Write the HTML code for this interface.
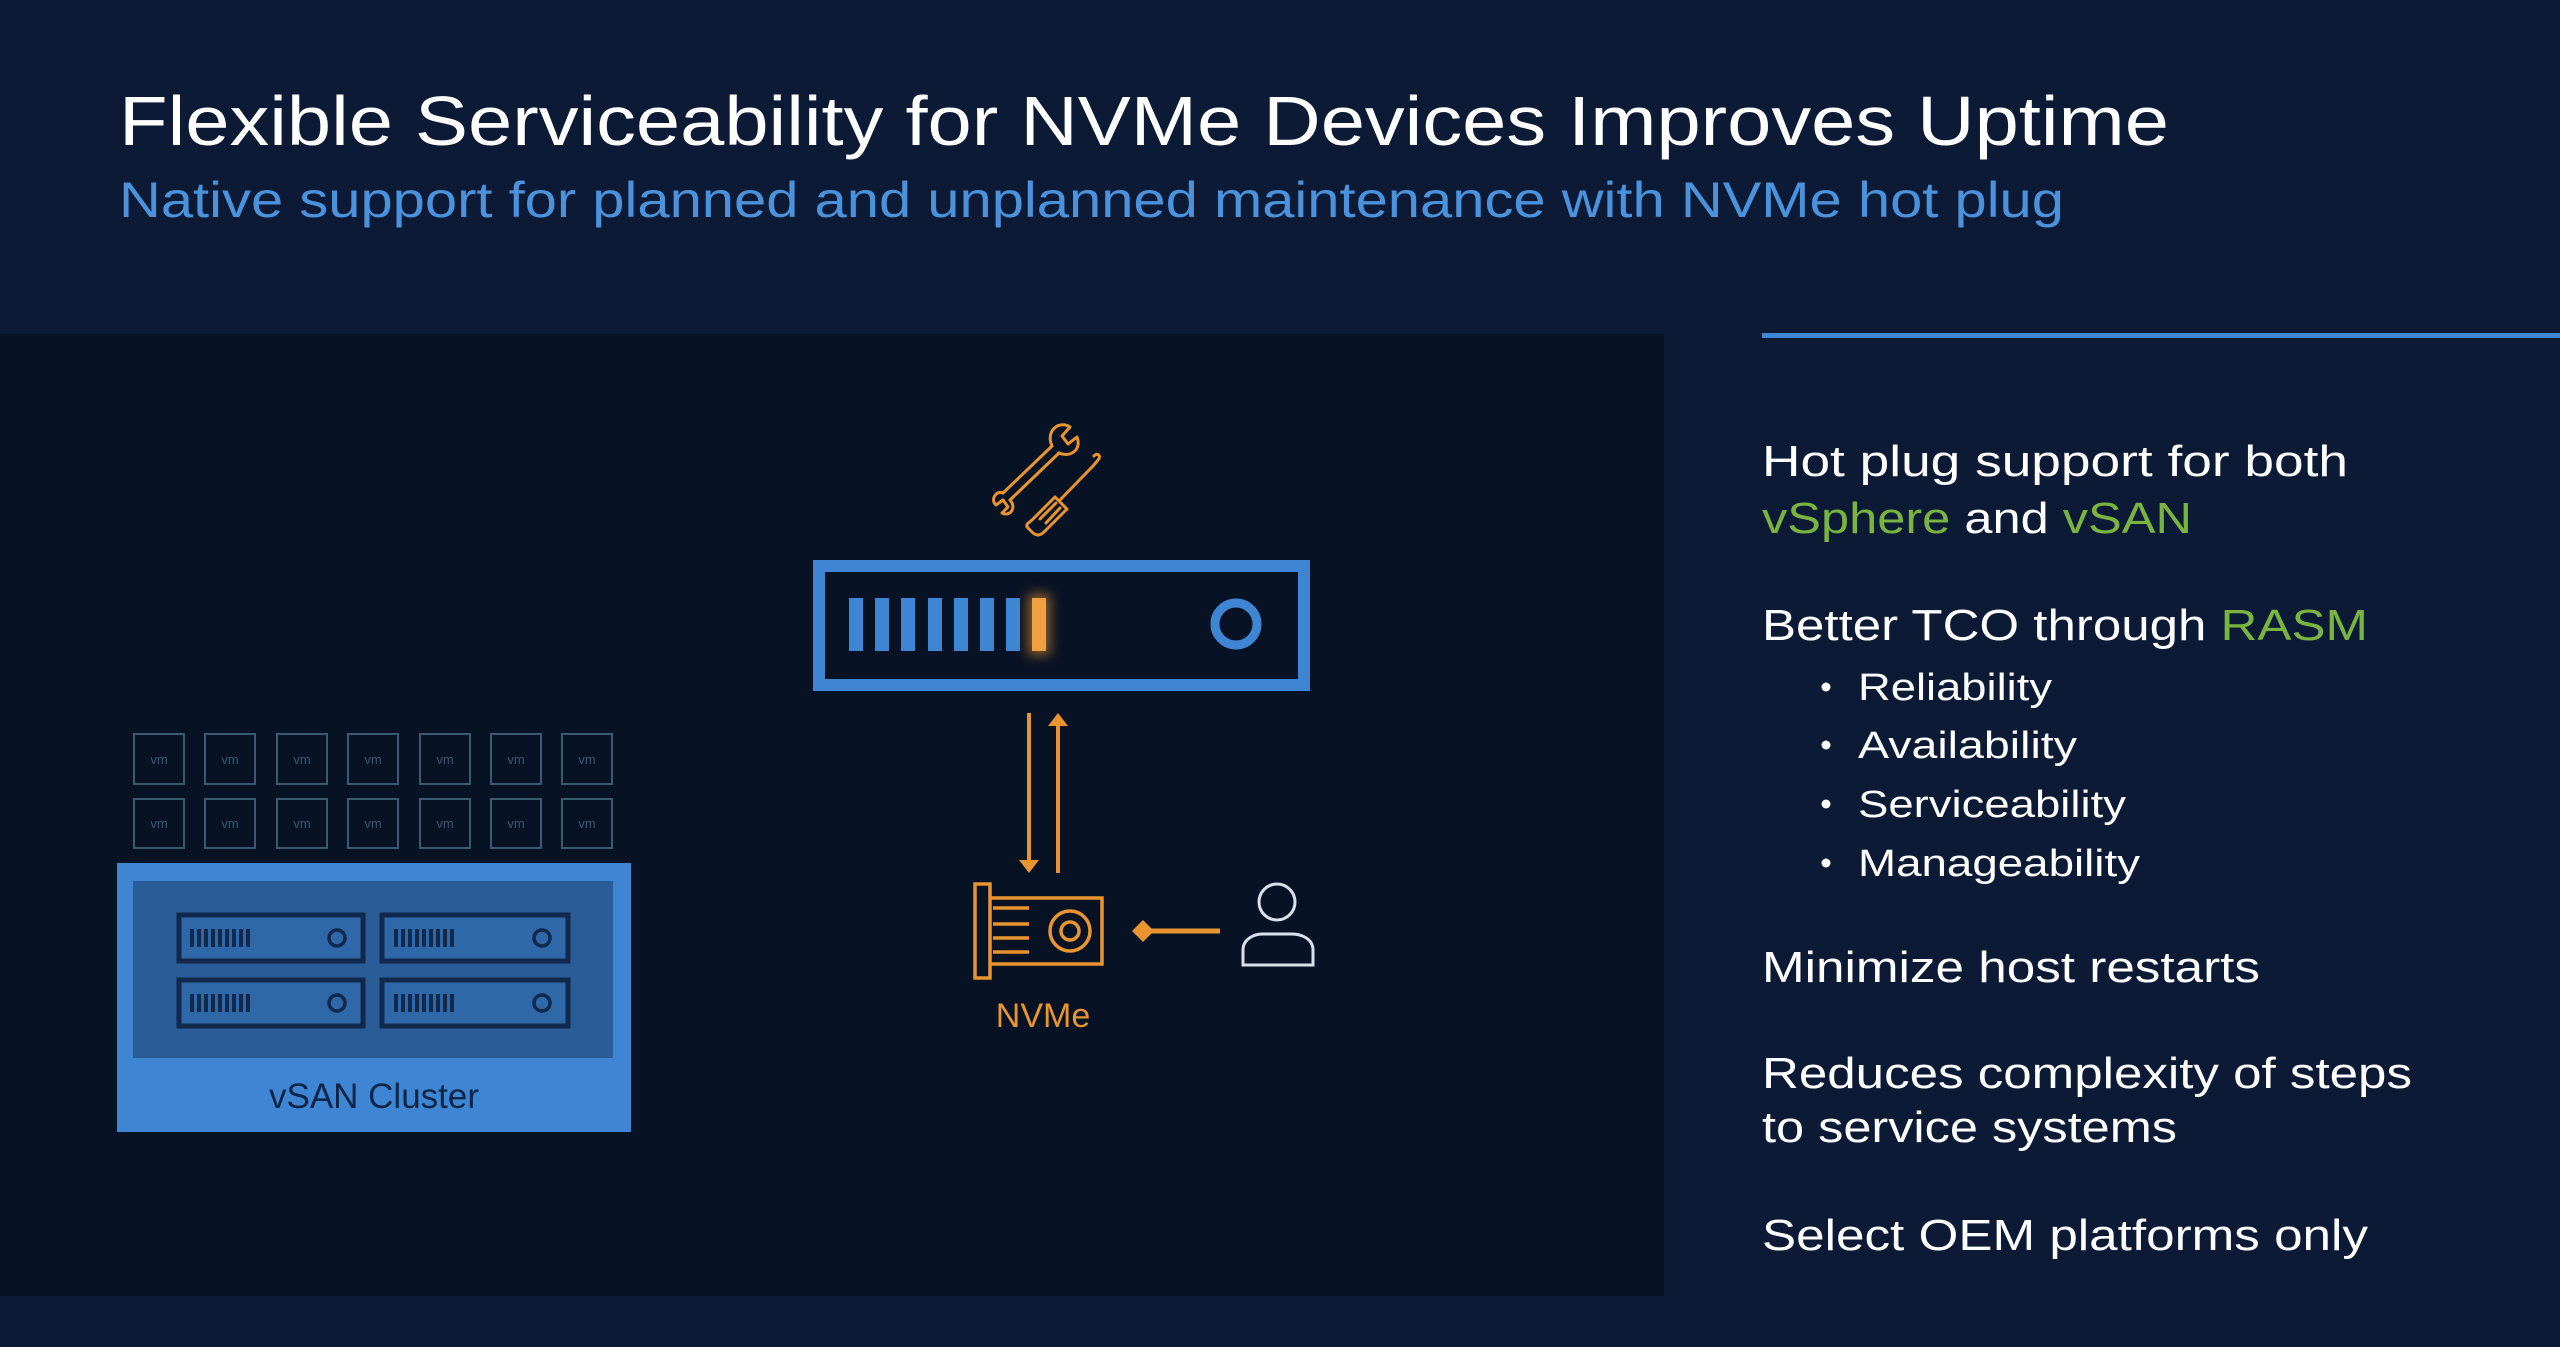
<!DOCTYPE html>
<html><head><meta charset="utf-8"><style>
html,body{margin:0;padding:0;background:#0c1a35;}
svg{display:block}
</style></head><body>
<svg width="2560" height="1347" viewBox="0 0 2560 1347" xmlns="http://www.w3.org/2000/svg" font-family="Liberation Sans, sans-serif">
<defs>
<filter id="glow" x="-100%" y="-50%" width="300%" height="200%"><feGaussianBlur stdDeviation="6"/></filter>
</defs>
<rect width="2560" height="1347" fill="#0c1a36"/>
<rect x="0" y="334" width="1664" height="962" fill="#081225"/>
<rect x="1762" y="333" width="798" height="5" fill="#3f86d6"/>

<text x="119" y="145" font-size="70" fill="#ffffff" textLength="2050" lengthAdjust="spacingAndGlyphs">Flexible Serviceability for NVMe Devices Improves Uptime</text>
<text x="119" y="217" font-size="50" fill="#4a93dc" textLength="1945" lengthAdjust="spacingAndGlyphs">Native support for planned and unplanned maintenance with NVMe hot plug</text>

<g font-size="44" fill="#ffffff">
<text x="1762" y="476" textLength="586" lengthAdjust="spacingAndGlyphs">Hot plug support for both</text>
<text x="1762" y="533" textLength="430" lengthAdjust="spacingAndGlyphs"><tspan fill="#7ab440">vSphere</tspan> and <tspan fill="#7ab440">vSAN</tspan></text>
<text x="1762" y="640" textLength="606" lengthAdjust="spacingAndGlyphs">Better TCO through <tspan fill="#7ab440">RASM</tspan></text>
<text x="1762" y="982" textLength="498" lengthAdjust="spacingAndGlyphs">Minimize host restarts</text>
<text x="1762" y="1088" textLength="650" lengthAdjust="spacingAndGlyphs">Reduces complexity of steps</text>
<text x="1762" y="1142" textLength="415" lengthAdjust="spacingAndGlyphs">to service systems</text>
<text x="1762" y="1250" textLength="606" lengthAdjust="spacingAndGlyphs">Select OEM platforms only</text>
</g>
<g font-size="38" fill="#ffffff">
<circle cx="1826" cy="687" r="4.5"/><text x="1858" y="700" textLength="194" lengthAdjust="spacingAndGlyphs">Reliability</text>
<circle cx="1826" cy="745" r="4.5"/><text x="1858" y="758" textLength="219" lengthAdjust="spacingAndGlyphs">Availability</text>
<circle cx="1826" cy="804" r="4.5"/><text x="1858" y="817" textLength="268" lengthAdjust="spacingAndGlyphs">Serviceability</text>
<circle cx="1826" cy="863" r="4.5"/><text x="1858" y="876" textLength="282" lengthAdjust="spacingAndGlyphs">Manageability</text>
</g>

<!-- VM grid -->
<g stroke="#3a5a6e" stroke-width="2" fill="none">
<rect x="134" y="734" width="50" height="50"/><rect x="205" y="734" width="50" height="50"/><rect x="277" y="734" width="50" height="50"/><rect x="348" y="734" width="50" height="50"/><rect x="420" y="734" width="50" height="50"/><rect x="491" y="734" width="50" height="50"/><rect x="562" y="734" width="50" height="50"/>
<rect x="134" y="799" width="50" height="49"/><rect x="205" y="799" width="50" height="49"/><rect x="277" y="799" width="50" height="49"/><rect x="348" y="799" width="50" height="49"/><rect x="420" y="799" width="50" height="49"/><rect x="491" y="799" width="50" height="49"/><rect x="562" y="799" width="50" height="49"/>
</g>
<g font-size="13" fill="#3a5a6e" text-anchor="middle">
<text x="159" y="764">vm</text><text x="230" y="764">vm</text><text x="302" y="764">vm</text><text x="373" y="764">vm</text><text x="445" y="764">vm</text><text x="516" y="764">vm</text><text x="587" y="764">vm</text>
<text x="159" y="828">vm</text><text x="230" y="828">vm</text><text x="302" y="828">vm</text><text x="373" y="828">vm</text><text x="445" y="828">vm</text><text x="516" y="828">vm</text><text x="587" y="828">vm</text>
</g>

<!-- vSAN cluster -->
<rect x="117" y="863" width="514" height="269" fill="#3e86d3"/>
<rect x="133" y="881" width="480" height="177" fill="#2a5c98"/>
<g stroke="#10294d" stroke-width="5" fill="#2f68a8">
<rect x="179" y="915" width="184" height="46"/><rect x="382" y="915" width="186" height="46"/>
<rect x="179" y="980" width="184" height="46"/><rect x="382" y="980" width="186" height="46"/>
</g>
<g fill="#10294d">
<g id="bars"><rect x="190" y="929" width="4" height="18"/><rect x="197" y="929" width="4" height="18"/><rect x="204" y="929" width="4" height="18"/><rect x="211" y="929" width="4" height="18"/><rect x="218" y="929" width="4" height="18"/><rect x="225" y="929" width="4" height="18"/><rect x="232" y="929" width="4" height="18"/><rect x="239" y="929" width="4" height="18"/><rect x="246" y="929" width="4" height="18"/></g>
<use href="#bars" x="204"/><use href="#bars" y="65"/><use href="#bars" x="204" y="65"/>
</g>
<g stroke="#10294d" stroke-width="3.5" fill="none">
<circle cx="337" cy="938" r="8"/><circle cx="542" cy="938" r="8"/><circle cx="337" cy="1003" r="8"/><circle cx="542" cy="1003" r="8"/>
</g>
<text x="374" y="1108" font-size="35" fill="#0e2547" text-anchor="middle">vSAN Cluster</text>

<!-- tools -->
<g stroke="#e8952f" stroke-width="3" fill="none" stroke-linejoin="round" stroke-linecap="round">
<path d="M1003,493 L1052,446 M1010,500 L1059,453"/>
<path d="M1052,446 C1045,430 1060,420 1070,427 L1062,436 L1068,444 L1077,437 C1082,450 1070,458 1059,453"/>
<path d="M1003,493 C996,490 990,500 996,505 L1003,500 L1008,507 L1002,513 C1010,517 1017,508 1010,500"/>
<path d="M1060,500 L1093,466 M1093,466 L1098,460 C1102,456 1097,452 1094,456"/>
<path d="M1032,520 L1055,497 L1067,509 L1044,532 C1040,536 1036,536 1032,532 L1028,528 C1025,525 1028,523 1032,520 Z"/>
<path d="M1040,519 L1056,503 M1046,523 L1060,508"/>
</g>

<!-- server -->
<rect x="819" y="566" width="485" height="119" fill="none" stroke="#3e86d3" stroke-width="12"/>
<g fill="#3e86d3">
<rect x="849" y="598" width="14" height="53"/><rect x="875" y="598" width="14" height="53"/><rect x="901" y="598" width="14" height="53"/><rect x="928" y="598" width="14" height="53"/><rect x="954" y="598" width="14" height="53"/><rect x="980" y="598" width="14" height="53"/><rect x="1006" y="598" width="14" height="53"/>
</g>
<rect x="1028" y="594" width="22" height="61" fill="#e8952f" opacity="0.6" filter="url(#glow)"/>
<rect x="1032" y="598" width="14" height="53" fill="#f0a040"/>
<circle cx="1236" cy="624" r="21" fill="none" stroke="#3e86d3" stroke-width="9"/>

<!-- arrows -->
<g stroke="#e8952f" stroke-width="4" fill="#e8952f">
<line x1="1029" y1="713" x2="1029" y2="862"/>
<path d="M1019,860 L1039,860 L1029,873 Z" stroke="none"/>
<line x1="1058" y1="724" x2="1058" y2="873"/>
<path d="M1048,726 L1068,726 L1058,713 Z" stroke="none"/>
</g>

<!-- NVMe card -->
<g stroke="#e8952f" stroke-width="3.5" fill="none">
<rect x="975" y="884" width="15" height="94"/>
<path d="M990,898 L1102,898 L1102,964 L990,964"/>
<path d="M993,908 L1029,908 M993,924 L1029,924 M993,938 L1029,938 M993,952 L1029,952"/>
<circle cx="1070" cy="931" r="20"/><circle cx="1070" cy="931" r="9"/>
</g>
<text x="1043" y="1027" font-size="34" fill="#e8952f" text-anchor="middle">NVMe</text>
<line x1="1148" y1="931" x2="1220" y2="931" stroke="#e8952f" stroke-width="5"/>
<path d="M1132,931 L1143,920 L1154,931 L1143,942 Z" fill="#e8952f"/>

<!-- person -->
<g stroke="#d8e2ec" stroke-width="3" fill="none">
<circle cx="1277" cy="902" r="18"/>
<path d="M1243,965 L1243,950 C1243,938 1256,934 1262,934 L1292,934 C1300,934 1313,938 1313,950 L1313,965 Z"/>
</g>
</svg>
</body></html>
